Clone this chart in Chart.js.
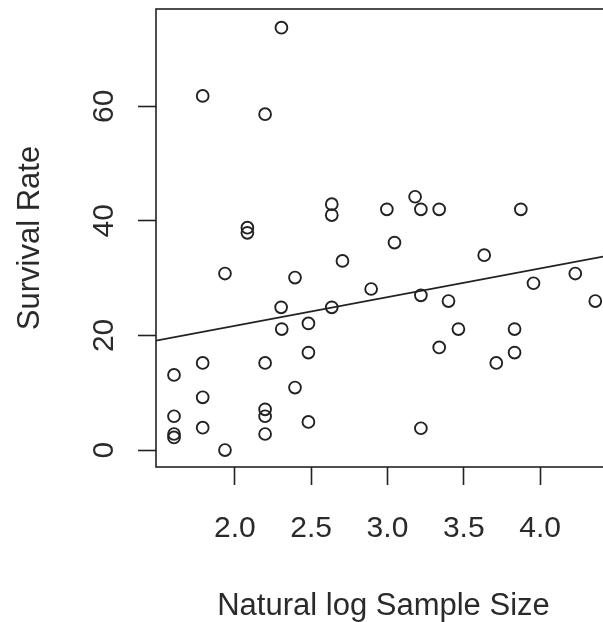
<!DOCTYPE html>
<html>
<head>
<meta charset="utf-8">
<script src="https://cdn.jsdelivr.net/npm/chart.js@4/dist/chart.umd.min.js"></script>
<style>
  html, body { margin: 0; padding: 0; background: #ffffff; overflow: hidden; }
  #wrap { width: 640px; height: 622px; }
</style>
</head>
<body>
<div id="wrap"><canvas id="c" width="640" height="622"></canvas></div>
<script>
// ---- data ----
const logSampleSize = [
  2.305, 1.789, 2.198, 2.082, 2.082, 2.635, 2.635, 1.935, 2.394, 2.705,
  2.303, 2.635, 2.307, 2.482, 2.482, 1.789, 2.198, 1.601, 2.394, 1.789,
  1.601, 2.198, 2.198, 1.789, 2.482, 1.601, 1.601, 2.198, 1.935, 3.181,
  2.996, 3.219, 3.339, 3.874, 3.046, 3.634, 2.893, 3.219, 3.400, 3.957,
  4.231, 4.362, 3.465, 3.339, 3.833, 3.833, 3.713, 3.219
];
const survivalRate = [
  73.7, 61.8, 58.6, 38.8, 37.9, 42.9, 41.0, 30.8, 30.1, 33.0,
  24.9, 24.9, 21.1, 22.1, 17.0, 15.2, 15.2, 13.1, 10.9, 9.2,
  5.9, 7.1, 5.9, 3.9, 4.9, 2.8, 2.2, 2.8, 0.0, 44.2,
  42.0, 42.0, 42.0, 42.0, 36.2, 34.0, 28.1, 27.0, 26.0, 29.1,
  30.8, 26.0, 21.1, 17.9, 21.1, 17.0, 15.2, 3.8
];
// fitted regression line, read at the two edges of the plot
const fitX = [1.483, 4.465];
const fitY = [19.1, 34.0];

const xTickValues = [2.0, 2.5, 3.0, 3.5, 4.0];
const xTickLabels = ['2.0', '2.5', '3.0', '3.5', '4.0'];
const yTickValues = [0, 20, 40, 60];
const yTickLabels = ['0', '20', '40', '60'];

const xTitle = 'Natural log Sample Size';
const yTitle = 'Survival Rate';

// ---- build chart ----
const INK = '#222222';
const TEXT = '#2a2a2a';
const FONT = '"Liberation Sans", Arial, sans-serif';

const points = logSampleSize.map((x, i) => ({ x: x, y: survivalRate[i] }));
const fitLine = fitX.map((x, i) => ({ x: x, y: fitY[i] }));

const boxPlugin = {
  id: 'rbox',
  afterDraw(chart) {
    const ctx = chart.ctx;
    const a = chart.chartArea;
    ctx.save();
    ctx.strokeStyle = INK;
    ctx.lineWidth = 1.6;
    ctx.strokeRect(a.left, a.top, a.right - a.left, a.bottom - a.top);
    // rotated y tick labels (R style, reading bottom to top)
    const ys = chart.scales.y;
    ctx.fillStyle = TEXT;
    ctx.font = '30px ' + FONT;
    ctx.textAlign = 'center';
    ctx.textBaseline = 'alphabetic';
    ys.ticks.forEach((t) => {
      const py = ys.getPixelForValue(t.value);
      ctx.save();
      ctx.translate(113, py);
      ctx.rotate(-Math.PI / 2);
      ctx.fillText(yTickLabels[yTickValues.indexOf(t.value)], 0, 0);
      ctx.restore();
    });
    ctx.restore();
  }
};

new Chart(document.getElementById('c'), {
  type: 'scatter',
  data: {
    datasets: [
      {
        label: 'points',
        data: points,
        pointStyle: 'circle',
        pointRadius: 5.9,
        pointHoverRadius: 5.9,
        pointBorderWidth: 1.9,
        borderColor: INK,
        backgroundColor: 'rgba(0,0,0,0)',
        showLine: false,
        order: 2
      },
      {
        label: 'fit',
        data: fitLine,
        showLine: true,
        pointRadius: 0,
        borderColor: INK,
        borderWidth: 1.8,
        backgroundColor: 'rgba(0,0,0,0)',
        order: 1
      }
    ]
  },
  options: {
    responsive: false,
    animation: false,
    events: [],
    layout: { padding: { top: 9, right: 29, bottom: 0, left: 0 } },
    plugins: {
      legend: { display: false },
      tooltip: { enabled: false }
    },
    scales: {
      x: {
        type: 'linear',
        min: 1.483,
        max: 4.465,
        afterBuildTicks: (s) => { s.ticks = xTickValues.map(v => ({ value: v })); },
        afterFit: (s) => { s.height = 155; },
        border: { display: false },
        grid: {
          drawOnChartArea: false,
          drawTicks: true,
          tickLength: 18,
          tickColor: INK,
          tickWidth: 1.6
        },
        ticks: {
          autoSkip: false,
          maxRotation: 0,
          minRotation: 0,
          padding: 29,
          color: TEXT,
          font: { family: FONT, size: 30, lineHeight: 1 },
          callback: (v) => xTickLabels[xTickValues.indexOf(v)]
        },
        title: {
          display: true,
          text: xTitle,
          color: TEXT,
          font: { family: FONT, size: 31, lineHeight: 1 },
          padding: { top: 0, bottom: 0 }
        }
      },
      y: {
        type: 'linear',
        min: -2.96,
        max: 76.96,
        afterBuildTicks: (s) => { s.ticks = yTickValues.map(v => ({ value: v })); },
        afterFit: (s) => { s.width = 156; },
        border: { display: false },
        grid: {
          drawOnChartArea: false,
          drawTicks: true,
          tickLength: 18,
          tickColor: INK,
          tickWidth: 1.6
        },
        ticks: { display: false },
        title: {
          display: true,
          text: yTitle,
          color: TEXT,
          font: { family: FONT, size: 31, lineHeight: 1 },
          padding: { top: 15, bottom: 0 }
        }
      }
    }
  },
  plugins: [boxPlugin]
});
</script>
</body>
</html>
